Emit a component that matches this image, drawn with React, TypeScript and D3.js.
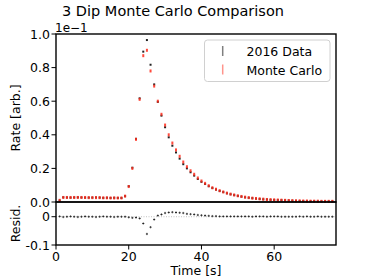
import * as d3 from 'd3';

// time bins [s]
const time = [
  1, 2, 3, 4, 5, 6, 7, 8, 9, 10, 11, 12, 13, 14, 15, 16, 17, 18, 19, 20,
  21, 22, 23, 24, 25, 26, 27, 28, 29, 30, 31, 32, 33, 34, 35, 36, 37, 38, 39, 40,
  41, 42, 43, 44, 45, 46, 47, 48, 49, 50, 51, 52, 53, 54, 55, 56, 57, 58, 59, 60,
  61, 62, 63, 64, 65, 66, 67, 68, 69, 70, 71, 72, 73, 74, 75, 76,
];

// rates in units of 1e-1
const monteCarlo = [
  0.010, 0.027, 0.027, 0.027, 0.027, 0.027, 0.027, 0.027, 0.026, 0.026,
  0.026, 0.026, 0.025, 0.025, 0.024, 0.024, 0.024, 0.024, 0.035, 0.092,
  0.200, 0.373, 0.611, 0.871, 0.903, 0.780, 0.690, 0.600, 0.522, 0.458,
  0.400, 0.351, 0.310, 0.272, 0.238, 0.210, 0.186, 0.165, 0.143, 0.125,
  0.111, 0.097, 0.085, 0.076, 0.067, 0.060, 0.053, 0.047, 0.042, 0.037,
  0.033, 0.029, 0.026, 0.023, 0.021, 0.019, 0.017, 0.015, 0.014, 0.013,
  0.012, 0.011, 0.010, 0.009, 0.008, 0.007, 0.007, 0.006, 0.006, 0.005,
  0.005, 0.005, 0.004, 0.004, 0.004, 0.004,
];

const data2016 = [
  0.009, 0.028, 0.027, 0.026, 0.027, 0.028, 0.027, 0.026, 0.026, 0.026,
  0.027, 0.026, 0.024, 0.025, 0.024, 0.025, 0.024, 0.024, 0.035, 0.094,
  0.204, 0.376, 0.617, 0.895, 0.964, 0.817, 0.700, 0.596, 0.514, 0.445,
  0.385, 0.335, 0.295, 0.258, 0.225, 0.200, 0.177, 0.157, 0.137, 0.120,
  0.107, 0.094, 0.083, 0.074, 0.066, 0.059, 0.052, 0.046, 0.041, 0.036,
  0.032, 0.028, 0.025, 0.023, 0.020, 0.018, 0.016, 0.015, 0.013, 0.012,
  0.011, 0.011, 0.010, 0.009, 0.008, 0.007, 0.006, 0.006, 0.005, 0.005,
  0.005, 0.004, 0.004, 0.004, 0.004, 0.004,
];

const rateTicks = [0, 0.2, 0.4, 0.6, 0.8, 1.0];
const residTicks = [0, -0.1];
const timeTicks = [0, 20, 40, 60];
const legendLabels = ['2016 Data', 'Monte Carlo'];

const W = 374;
const H = 280;
const left = 56;
const right = 336;
const top = 34;
const mid = 202;
const bottom = 245;
const font = '"DejaVu Sans", sans-serif';

export default function App() {
  const x = d3.scaleLinear().domain([0, 77]).range([left, right]);
  const y = d3.scaleLinear().domain([0, 1.0]).range([mid, top]);
  const yr = d3.scaleLinear().domain([-0.1, 0.052]).range([bottom, mid]);

  // residual = MC - data
  const resid = time.map((t, i) => monteCarlo[i] - data2016[i]);

  return (
    <svg width={W} height={H} style={{ position: 'absolute', left: 0, top: 0 }} fontFamily={font}>
      <rect width={W} height={H} fill="white" />
      <text x={173} y={16} fontSize={14.5} textAnchor="middle">3 Dip Monte Carlo Comparison</text>
      <text x={left - 1} y={31.5} fontSize={12}>1e−1</text>

      {/* main panel points */}
      {time.map((t, i) => (
        <rect key={'d' + i} x={x(t) - 1} y={y(data2016[i]) - 1} width={2} height={2} fill="#222" />
      ))}
      {time.map((t, i) => (
        <rect key={'m' + i} x={x(t) - 1} y={y(monteCarlo[i]) - 1.5} width={2} height={3} fill="#ff2a1a" opacity={0.85} />
      ))}

      {/* residual panel */}
      <line x1={left} x2={right} y1={yr(0)} y2={yr(0)} stroke="#999" strokeWidth={0.6} strokeDasharray="1,1.5" />
      {time.map((t, i) => (
        <g key={'r' + i}>
          <line x1={x(t)} x2={x(t)} y1={yr(resid[i]) - 1.2} y2={yr(resid[i]) + 1.2} stroke="#555" strokeWidth={0.8} />
          <rect x={x(t) - 1} y={yr(resid[i]) - 0.5} width={2} height={1} fill="#222" />
        </g>
      ))}

      {/* frames */}
      <rect x={left} y={top} width={right - left} height={mid - top} fill="none" stroke="black" strokeWidth={1.4} />
      <rect x={left} y={mid} width={right - left} height={bottom - mid} fill="none" stroke="black" strokeWidth={1.4} />

      {/* y ticks main */}
      {rateTicks.map((v) => (
        <g key={'yt' + v}>
          <line x1={left - 4.5} x2={left} y1={y(v)} y2={y(v)} stroke="black" strokeWidth={1} />
          <text x={left - 6} y={y(v) + 4.5} fontSize={12.5} textAnchor="end">{v.toFixed(1)}</text>
        </g>
      ))}
      {/* y ticks residual */}
      {residTicks.map((v) => (
        <g key={'rt' + v}>
          <line x1={left - 4.5} x2={left} y1={yr(v)} y2={yr(v)} stroke="black" strokeWidth={1} />
          <text x={left - 6} y={yr(v) + 4.5} fontSize={12.5} textAnchor="end">{v === 0 ? '0' : '-0.1'}</text>
        </g>
      ))}
      {/* x ticks */}
      {timeTicks.map((v) => (
        <g key={'xt' + v}>
          <line x1={x(v)} x2={x(v)} y1={bottom} y2={bottom + 4.5} stroke="black" strokeWidth={1} />
          <text x={x(v)} y={261} fontSize={12.5} textAnchor="middle">{v}</text>
        </g>
      ))}

      <text x={(left + right) / 2} y={275} fontSize={12.5} textAnchor="middle">Time [s]</text>
      <text transform={`translate(20,${(top + mid) / 2}) rotate(-90)`} fontSize={12.5} textAnchor="middle">Rate [arb.]</text>
      <text transform={`translate(20,${(mid + bottom) / 2}) rotate(-90)`} fontSize={12.5} textAnchor="middle">Resid.</text>

      {/* legend */}
      <rect x={204.5} y={40} width={125.5} height={41.5} rx={3} fill="white" fillOpacity={0.8} stroke="#d0d0d0" strokeWidth={1} />
      <line x1={222.7} x2={222.7} y1={46} y2={56} stroke="#000" strokeOpacity={0.5} strokeWidth={1.5} />
      <line x1={222.7} x2={222.7} y1={64.5} y2={74.5} stroke="#ff2a1a" strokeOpacity={0.5} strokeWidth={1.5} />
      <text x={246.5} y={55.5} fontSize={12.5}>{legendLabels[0]}</text>
      <text x={246.5} y={74.5} fontSize={12.5}>{legendLabels[1]}</text>
    </svg>
  );
}
